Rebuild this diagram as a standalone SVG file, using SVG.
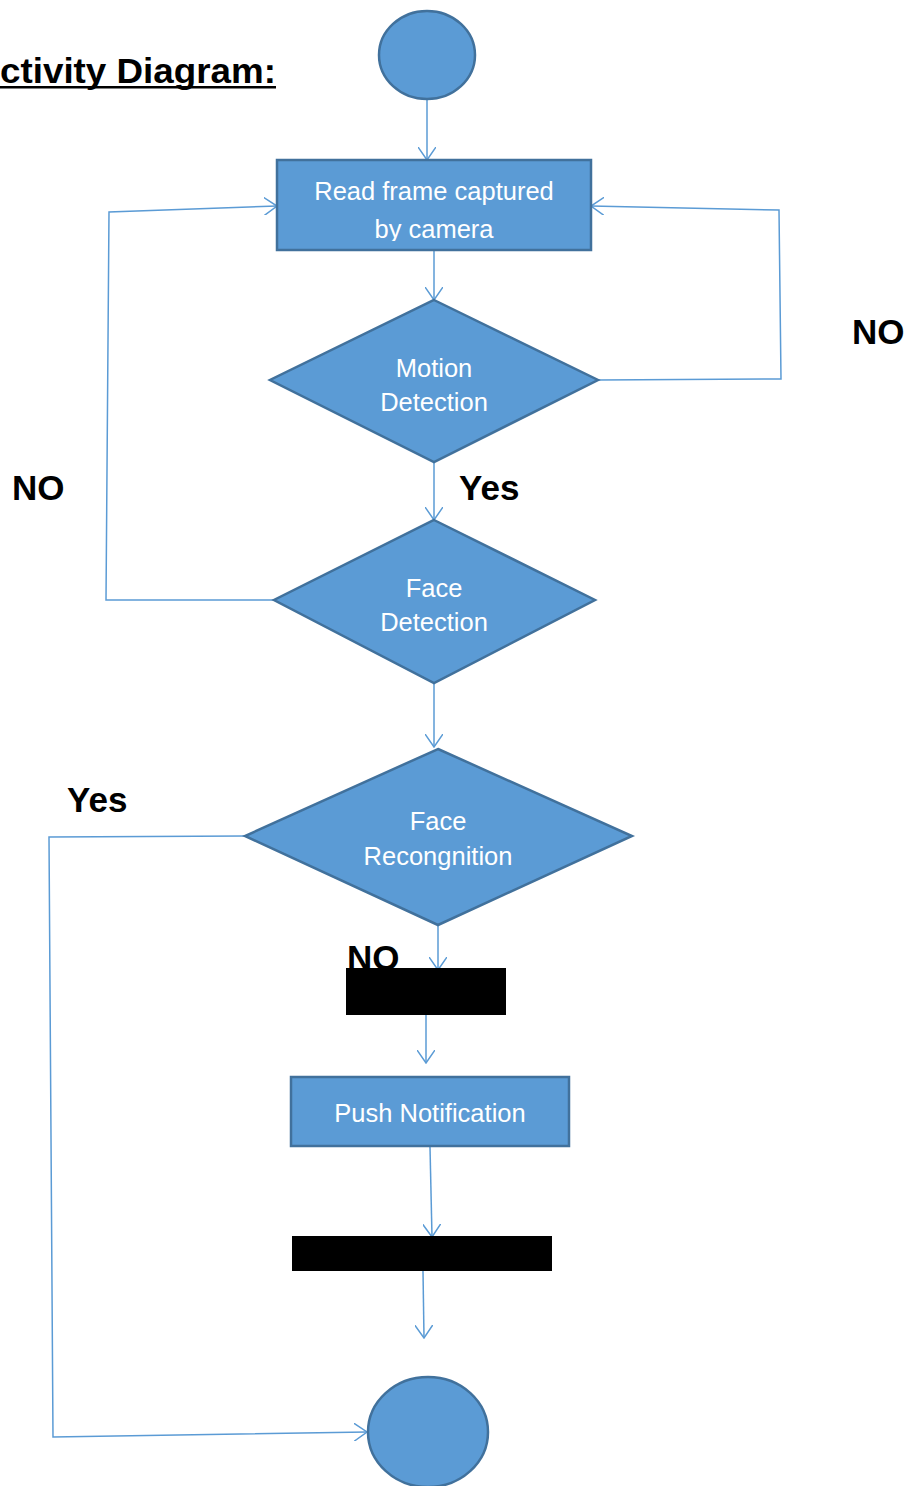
<svg xmlns="http://www.w3.org/2000/svg" width="912" height="1486" viewBox="0 0 912 1486">
<style>
.shape{fill:#5B9BD5;stroke:#41719C;stroke-width:2.5}
.bar{fill:#000}
.conn{fill:none;stroke:#5B9BD5;stroke-width:1.5}
.ntext{font-family:"Liberation Sans",Arial,sans-serif;font-size:25.5px;fill:#fff;text-anchor:middle}
.lbl{font-family:"Liberation Sans",Arial,sans-serif;font-size:35px;font-weight:bold;fill:#000}
</style>
<defs>
<marker id="arr" viewBox="0 0 14 18" refX="13" refY="9" markerWidth="14" markerHeight="18" markerUnits="userSpaceOnUse" orient="auto">
<path d="M0,0 L13,9 L0,18" fill="none" stroke="#5B9BD5" stroke-width="1.5"/>
</marker>
<clipPath id="clipRead"><rect x="278" y="161" width="312" height="80"/></clipPath>
</defs>
<rect width="912" height="1486" fill="#fff"/>
<g id="title">
<text x="0" y="83" class="lbl" textLength="276" lengthAdjust="spacingAndGlyphs">ctivity Diagram:</text>
<rect x="0" y="86" width="276" height="2.5" fill="#000"/>
</g>
<g id="connectors">
<line class="conn" x1="427" y1="99" x2="427" y2="160" marker-end="url(#arr)"/>
<line class="conn" x1="434" y1="251" x2="434" y2="300" marker-end="url(#arr)"/>
<polyline class="conn" points="598,380 781,379 779,210 591,206" marker-end="url(#arr)"/>
<line class="conn" x1="434" y1="462" x2="434" y2="520" marker-end="url(#arr)"/>
<polyline class="conn" points="274,600 106,600 109,212 277,206" marker-end="url(#arr)"/>
<line class="conn" x1="434" y1="683" x2="434" y2="747" marker-end="url(#arr)"/>
<polyline class="conn" points="245,836 49,837 53,1437 367,1432" marker-end="url(#arr)"/>
<line class="conn" x1="438" y1="925" x2="438" y2="970" marker-end="url(#arr)"/>
<line class="conn" x1="426" y1="1015" x2="426" y2="1063" marker-end="url(#arr)"/>
<line class="conn" x1="430" y1="1147" x2="432" y2="1237" marker-end="url(#arr)"/>
<line class="conn" x1="423" y1="1271" x2="424" y2="1338" marker-end="url(#arr)"/>
</g>
<g id="start">
<ellipse class="shape" cx="427" cy="55" rx="48" ry="44"/>
</g>
<g id="read-frame">
<rect class="shape" x="277" y="160" width="314" height="90"/>
<g clip-path="url(#clipRead)">
<text class="ntext" x="434" y="200">Read frame captured</text>
<text class="ntext" x="434" y="238">by camera</text>
</g>
</g>
<g id="motion-detection">
<polygon class="shape" points="434,300 598,380 434,462 270,380"/>
<text class="ntext" x="434" y="377">Motion</text>
<text class="ntext" x="434" y="411">Detection</text>
</g>
<g id="face-detection">
<polygon class="shape" points="434,520 595,600 434,683 274,600"/>
<text class="ntext" x="434" y="597">Face</text>
<text class="ntext" x="434" y="631">Detection</text>
</g>
<g id="face-recognition">
<polygon class="shape" points="438,749 632,836 438,925 245,836"/>
<text class="ntext" x="438" y="830">Face</text>
<text class="ntext" x="438" y="865">Recongnition</text>
</g>
<g id="bar1">
<rect class="bar" x="346" y="968" width="160" height="47"/>
</g>
<g id="push-notification">
<rect class="shape" x="291" y="1077" width="278" height="69"/>
<text class="ntext" x="430" y="1122">Push Notification</text>
</g>
<g id="bar2">
<rect class="bar" x="292" y="1236" width="260" height="35"/>
</g>
<g id="end">
<ellipse class="shape" cx="428" cy="1432" rx="60" ry="55"/>
</g>
<g id="labels">
<text class="lbl" x="852" y="344">NO</text>
<text class="lbl" x="459" y="500">Yes</text>
<text class="lbl" x="12" y="500">NO</text>
<text class="lbl" x="67" y="812">Yes</text>
<text class="lbl" x="347" y="970">NO</text>
</g>
</svg>
